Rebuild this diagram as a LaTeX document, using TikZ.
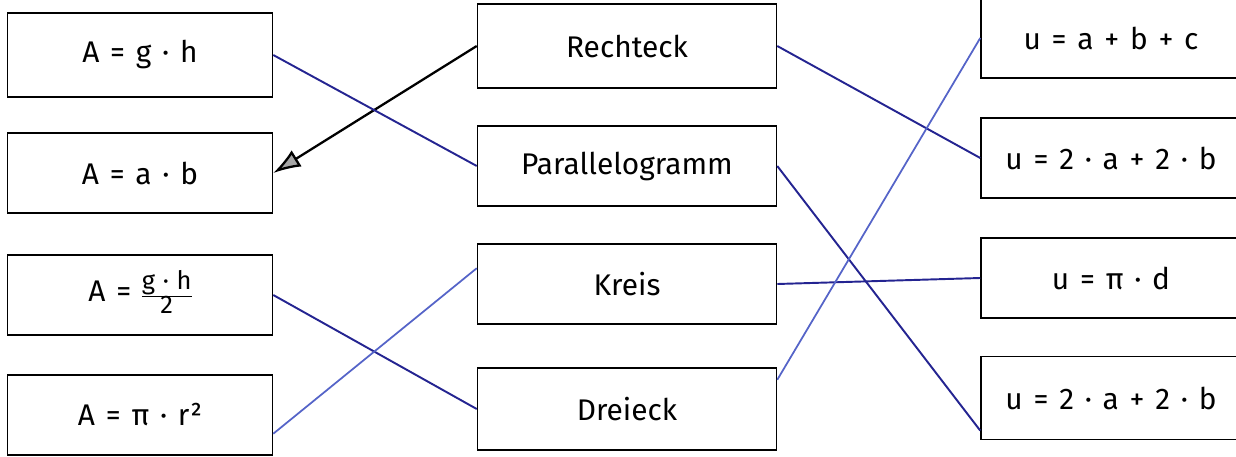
\documentclass[tikz,border=0pt]{standalone}
\usepackage{amsmath}
\usepackage{fontspec}
\setmainfont{Fira Sans}
\usepackage{xcolor}
\usetikzlibrary{arrows.meta,positioning}
\definecolor{pen}{RGB}{36,36,145}
\definecolor{penlight}{RGB}{85,100,200}
\newcommand{\op}[1]{\hspace{0.36em}#1\hspace{0.36em}}
\newcommand{\smallfrac}[2]{{\fontsize{14.5}{15}\selectfont\renewcommand{\arraystretch}{0.8}%
  \begin{tabular}[c]{@{}c@{}}#1\\\hline #2\end{tabular}}}

\begin{document}
\begin{tikzpicture}[x=0.02cm, y=-0.02cm, font=\fontsize{17}{20}\selectfont,
  box/.style={draw, line width=0.9pt, minimum height=1.6cm, inner sep=3pt, fill=white},
  lbox/.style={box, minimum width=5.3cm},
  mbox/.style={box, minimum width=5.98cm},
  rbox/.style={box, minimum width=5.2cm},
  link/.style={draw=pen, line width=1.1pt},
  linklight/.style={draw=penlight, line width=1pt},
  arr/.style={-{Latex[length=5.5mm, width=3.8mm, fill=gray!70]}, line width=1.3pt}]
  \useasboundingbox (0,0) rectangle (1236,456);
  % left column
  \node[lbox, minimum height=1.68cm] (l1) at (140,55) {A\op{=}g\op{·}h};
  \node[lbox] (l2) at (140,173) {A\op{=}a\op{·}b};
  \node[lbox] (l3) at (140,295) {A\op{=}\smallfrac{g\hspace{0.3em}·\hspace{0.3em}h}{2}};
  \node[lbox] (l4) at (140,415) {A\op{=}π\op{·}r²};
  % middle column
  \node[mbox, minimum height=1.68cm] (m1) at (627,46) {Rechteck};
  \node[mbox] (m2) at (627,166) {Parallelogramm};
  \node[mbox] (m3) at (627,284) {Kreis};
  \node[mbox, minimum height=1.64cm] (m4) at (627,409) {Dreieck};
  % right column
  \node[rbox] (r1) at (1111,38) {u\op{=}a\op{+}b\op{+}c};
  \node[rbox] (r2) at (1111,158) {u\op{=}2\op{·}a\op{+}2\op{·}b};
  \node[rbox] (r3) at (1111,278) {u\op{=}π\op{·}d};
  \node[rbox, minimum height=1.66cm] (r4) at (1111,398) {u\op{=}2\op{·}a\op{+}2\op{·}b};
  % connections
  \draw[arr] (m1.west) -- (l2.east);
  \draw[link] (l1.east) -- (m2.west);
  \draw[link] (l3.east) -- (m4.west);
  \draw[linklight] (l4.-8) -- (m3.174);
  \draw[link] (m1.east) -- (r2.west);
  \draw[link] (m2.east) -- (r4.194);
  \draw[link] (m3.east) -- (r3.west);
  \draw[linklight] (m4.11) -- (r1.west);
\end{tikzpicture}
\end{document}
